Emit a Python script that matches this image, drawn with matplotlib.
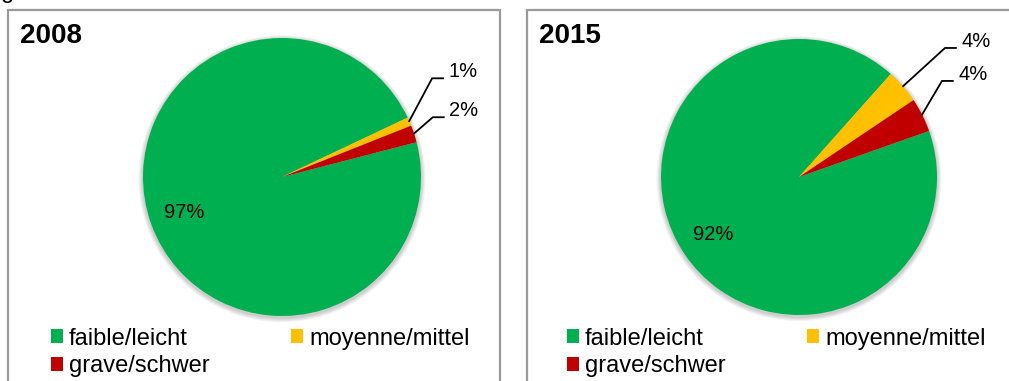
import matplotlib
matplotlib.use("Agg")
import matplotlib.pyplot as plt
from matplotlib.patches import Rectangle, Circle, Patch
import numpy as np

plt.rcParams['font.family'] = ['Liberation Sans', 'DejaVu Sans']

# Data
years = ["2008", "2015"]
categories = ["faible/leicht", "moyenne/mittel", "grave/schwer"]
shares_2008 = [97, 1, 2]
shares_2015 = [92, 4, 4]
colors = ["#00B050", "#FFC000", "#C00000"]

W, H = 1009, 381
fig = plt.figure(figsize=(W / 100, H / 100), dpi=100)


def fx(px):
    return px / W


def fy(py):
    return 1 - py / H


# Panel layout (pixels): border left/right, pie centre, radius, start angle,
# elbow points of the leader lines for the small wedges (radius units)
panels = [
    dict(year=years[0], values=shares_2008, left=8, right=500, cx=282, cy=177,
         r=139, start=14.5, legend_x=34,
         elbows={1: (1.08, 0.71), 2: (1.085, 0.43)}),
    dict(year=years[1], values=shares_2015, left=527, right=1030, cx=799, cy=177,
         r=138, start=19.5, legend_x=550,
         elbows={1: (1.058, 0.935), 2: (1.036, 0.696)}),
]

border_col = "#9A9A9A"

for p in panels:
    # panel frame (open at the bottom of the image)
    fig.add_artist(Rectangle((fx(p["left"]), fy(400)),
                             fx(p["right"] - p["left"]), fy(10) - fy(400),
                             transform=fig.transFigure, fill=False,
                             edgecolor=border_col, linewidth=1.6))
    fig.text(fx(p["left"] + 12), fy(36), p["year"], fontsize=20,
             fontweight="bold", va="center", ha="left")

    k = 1.5
    r = p["r"]
    ax = fig.add_axes([fx(p["cx"] - k * r), fy(p["cy"] + k * r),
                       fx(2 * k * r), (2 * k * r) / H])
    # soft shadow under the pie
    for i, a in enumerate([0.05, 0.05, 0.05, 0.05]):
        ax.add_patch(Circle((0.0, -0.012), 1.0 + 0.008 * (4 - i),
                            color="#000000", alpha=a, lw=0, zorder=0))
    wedges, _ = ax.pie(p["values"], colors=colors, startangle=p["start"],
                       counterclock=False, radius=1.0,
                       wedgeprops=dict(linewidth=0))
    for w in wedges:
        w.set_zorder(2)
    ax.set_xlim(-k, k)
    ax.set_ylim(-k, k)
    ax.set_aspect("equal")
    ax.axis("off")

    for idx, (w, v) in enumerate(zip(wedges, p["values"])):
        mid = np.deg2rad((w.theta1 + w.theta2) / 2)
        label = f"{v}%"
        if idx == 0:
            ax.text(0.75 * np.cos(mid), 0.75 * np.sin(mid), label,
                    fontsize=14.5, ha="center", va="center", zorder=3)
        else:
            ex, ey = p["elbows"][idx]
            sx, sy = 0.995 * np.cos(mid), 0.995 * np.sin(mid)
            hx = ex + 0.085
            ax.plot([sx, ex, hx], [sy, ey, ey], color="black", lw=1.3,
                    clip_on=False, zorder=3, solid_capstyle="butt")
            ax.text(hx + 0.035, ey + 0.05, label, fontsize=14.5, ha="left",
                    va="center", clip_on=False, zorder=3)

    # legend, filled row by row
    handles = [Patch(facecolor=c, edgecolor="none") for c in colors]
    order = [0, 2, 1]
    fig.legend([handles[i] for i in order], [categories[i] for i in order],
               ncol=2, loc="upper left",
               bbox_to_anchor=(fx(p["legend_x"]), fy(311)),
               frameon=False, fontsize=17, handlelength=0.52,
               handleheight=0.52, handletextpad=0.25, columnspacing=3.45,
               labelspacing=0.25, borderpad=0.2)

# descender of a caption letter above the frames
fig.text(fx(1), fy(-2), "g", fontsize=17, va="baseline", ha="left")

fig.savefig("out.png", dpi=100)
